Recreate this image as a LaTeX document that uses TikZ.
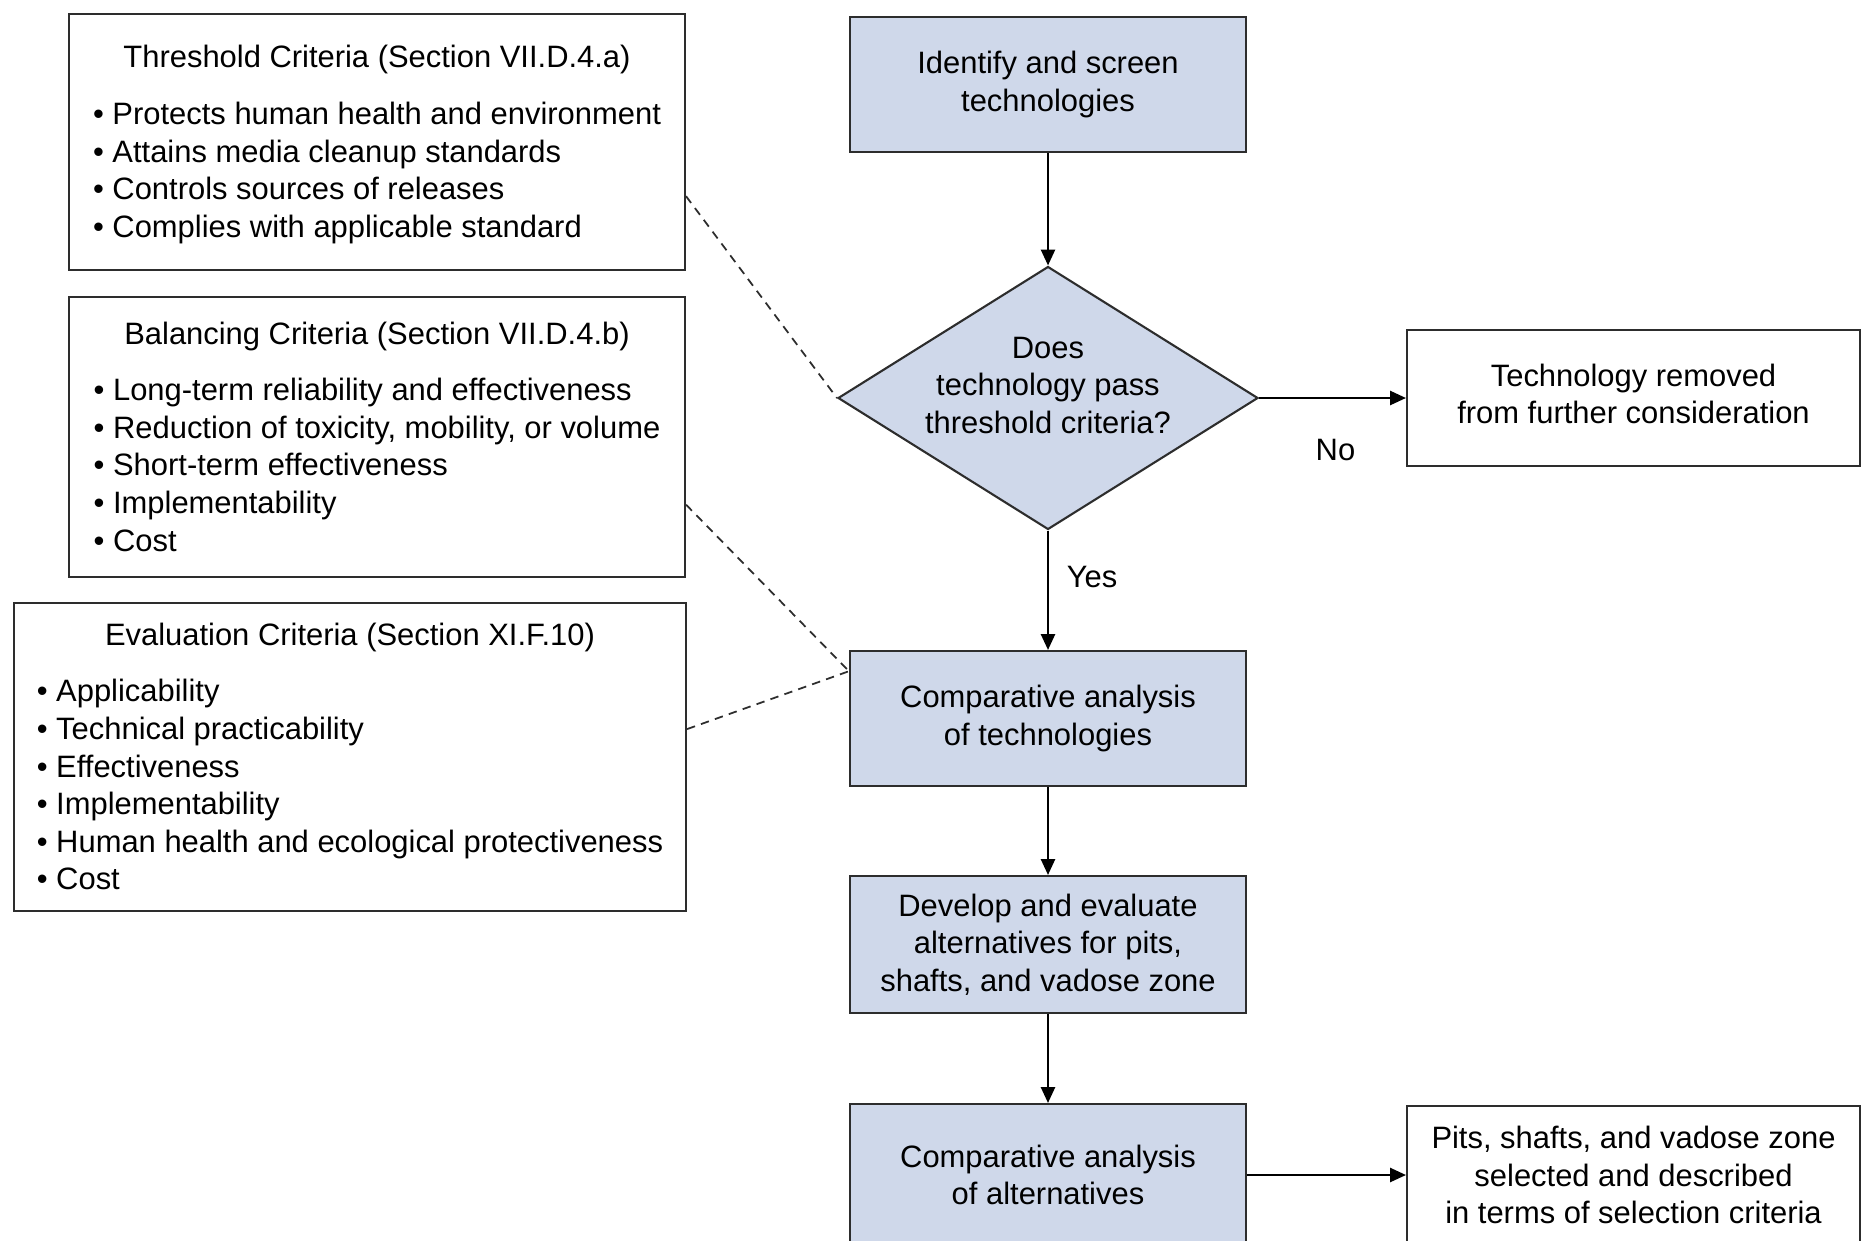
\documentclass[tikz,border=0pt]{standalone}
\usepackage{fontspec}
\setmainfont{Liberation Sans}
\usetikzlibrary{shapes.geometric,arrows.meta,calc}
\definecolor{boxblue}{RGB}{207,216,234}
\definecolor{edge}{RGB}{45,45,45}

\begin{document}
\begin{tikzpicture}[font=\fontsize{8.8}{10.7}\selectfont,
  crit/.style={draw=edge,line width=0.6pt,rectangle,align=center,inner sep=2pt},
  stepbox/.style={draw=edge,line width=0.6pt,fill=boxblue,rectangle,align=center,minimum width=3.96cm},
  endbox/.style={draw=edge,line width=0.6pt,rectangle,align=center,minimum width=4.53cm},
  flow/.style={-{Triangle[length=4.5pt,width=4pt]},line width=0.6pt,draw=black},
  link/.style={dash pattern=on 2.4pt off 1.8pt,line width=0.5pt,draw=edge}]
\useasboundingbox (0,0) rectangle (18.62,12.40);

%criteres
\node[crit,minimum width=6.16cm,minimum height=2.56cm] (thr) at (3.77,10.98)
  {\rule{0pt}{9.2pt}Threshold Criteria (Section VII.D.4.a)\\[5.4pt]
   \begin{tabular}[t]{@{}l@{}}
   \textbullet\ Protects human health and environment\\
   \textbullet\ Attains media cleanup standards\\
   \textbullet\ Controls sources of releases\\
   \textbullet\ Complies with applicable standard
   \end{tabular}};
\node[crit,minimum width=6.16cm,minimum height=2.80cm] (bal) at (3.77,8.03)
  {\rule{0pt}{9.2pt}Balancing Criteria (Section VII.D.4.b)\\[5.4pt]
   \begin{tabular}[t]{@{}l@{}}
   \textbullet\ Long-term reliability and effectiveness\\
   \textbullet\ Reduction of toxicity, mobility, or volume\\
   \textbullet\ Short-term effectiveness\\
   \textbullet\ Implementability\\
   \textbullet\ Cost
   \end{tabular}};
\node[crit,minimum width=6.72cm,minimum height=3.08cm] (eva) at (3.50,4.83)
  {\rule{0pt}{9.2pt}Evaluation Criteria (Section XI.F.10)\\[5.4pt]
   \begin{tabular}[t]{@{}l@{}}
   \textbullet\ Applicability\\
   \textbullet\ Technical practicability\\
   \textbullet\ Effectiveness\\
   \textbullet\ Implementability\\
   \textbullet\ Human health and ecological protectiveness\\
   \textbullet\ Cost
   \end{tabular}};

%etapes
\node[stepbox,minimum height=1.35cm] (ident) at (10.48,11.555) {Identify and screen\\technologies};
\node[draw=edge,line width=0.6pt,fill=boxblue,diamond,aspect=1.6,inner sep=0pt,
  minimum width=4.2cm,minimum height=2.63cm] (dec) at (10.48,8.42)
  {\raisebox{0.5pt}[0pt][0pt]{\begin{tabular}{@{}c@{}}Does\\technology pass\\threshold criteria?\end{tabular}}};
\node[endbox,minimum height=1.36cm] (rem) at (16.335,8.42) {Technology removed\\from further consideration\rule[-2.5pt]{0pt}{0pt}};
\node[stepbox,minimum height=1.35cm] (cat) at (10.48,5.215) {Comparative analysis\\of technologies};
\node[stepbox,minimum height=1.37cm] (dev) at (10.48,2.955) {Develop and evaluate\\alternatives for pits,\\shafts, and vadose zone};
\node[stepbox,minimum height=1.42cm] (caa) at (10.48,0.65) {Comparative analysis\\of alternatives};
\node[endbox,minimum height=1.38cm] (sel) at (16.335,0.65) {Pits, shafts, and vadose zone\\selected and described\\in terms of selection criteria};

%fleches
\draw[flow] (ident.south) -- (dec.north);
\draw[flow] (dec.east) -- node[pos=0.52,below=0.28cm] (no) {No} (rem.west);
\draw[flow] (dec.south) -- node[pos=0.39,right=0.06cm] (yes) {Yes} (cat.north);
\draw[flow] (cat.south) -- (dev.north);
\draw[flow] (dev.south) -- (caa.north);
\draw[flow] (caa.east) -- (sel.west);

%pointilles
\coordinate (meet) at ($(cat.north west)!0.155!(cat.south west)$);
\draw[link] ($(thr.south east)!0.29!(thr.north east)$) -- (dec.west);
\draw[link] ($(bal.south east)!0.26!(bal.north east)$) -- (meet);
\draw[link] ($(eva.south east)!0.59!(eva.north east)$) -- (meet);

\end{tikzpicture}
\end{document}
